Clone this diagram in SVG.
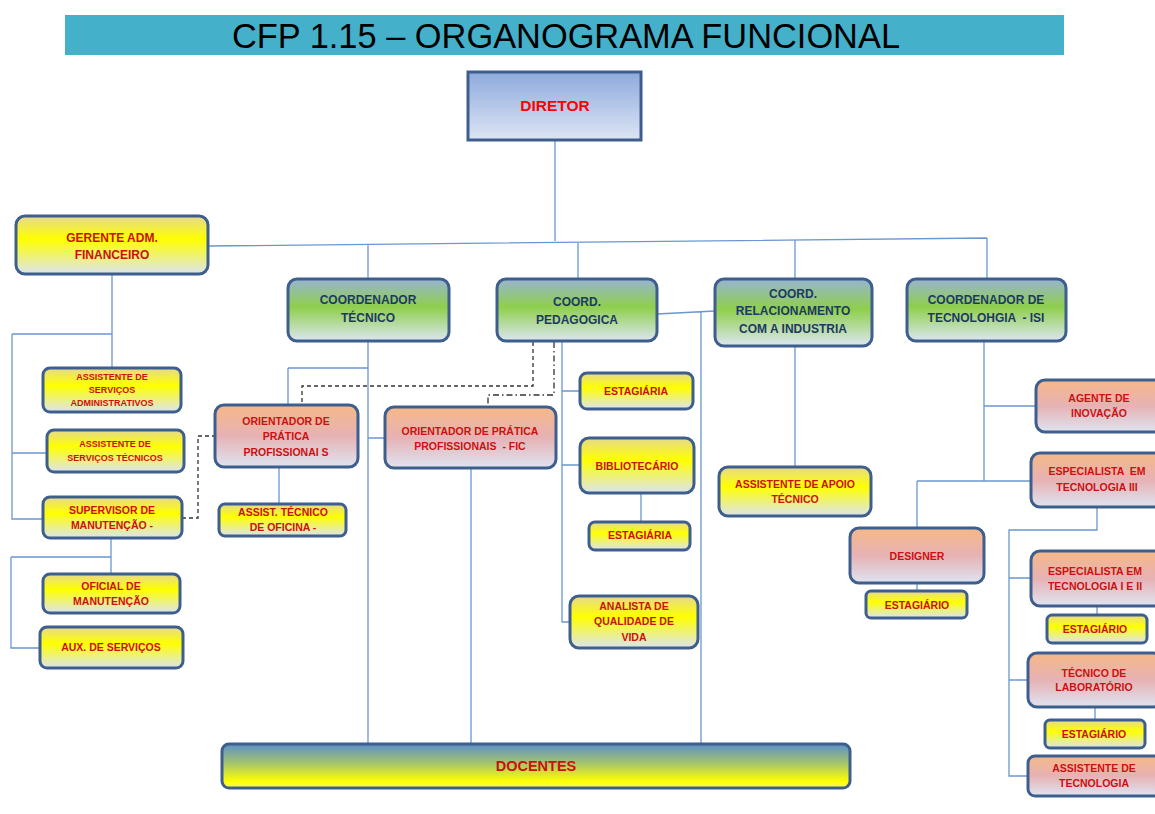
<svg xmlns="http://www.w3.org/2000/svg" width="1155" height="814" viewBox="0 0 1155 814">
<defs>
<linearGradient id="gY" x1="0" y1="0" x2="0" y2="1">
<stop offset="0" stop-color="#e6d98e"/><stop offset="0.4" stop-color="#ffff00"/><stop offset="1" stop-color="#dce4f0"/>
</linearGradient>
<linearGradient id="gG" x1="0" y1="0" x2="0" y2="1">
<stop offset="0" stop-color="#98b4d2"/><stop offset="0.45" stop-color="#8fcf4c"/><stop offset="1" stop-color="#dde6f2"/>
</linearGradient>
<linearGradient id="gP" x1="0" y1="0" x2="0" y2="1">
<stop offset="0" stop-color="#f6b888"/><stop offset="0.5" stop-color="#e6b2b4"/><stop offset="1" stop-color="#dfe4f2"/>
</linearGradient>
<linearGradient id="gD" x1="0" y1="0" x2="0" y2="1">
<stop offset="0" stop-color="#8eaadc"/><stop offset="1" stop-color="#dde5f4"/>
</linearGradient>
<linearGradient id="gDoc" x1="0" y1="0" x2="0" y2="1">
<stop offset="0" stop-color="#5b8fc8"/><stop offset="0.45" stop-color="#a8c66a"/><stop offset="0.85" stop-color="#ffff00"/><stop offset="1" stop-color="#fbfb60"/>
</linearGradient>
</defs>
<style>
.b{stroke:#3e5f8e;stroke-width:3}
.y{fill:url(#gY)}.g{fill:url(#gG)}.p{fill:url(#gP)}
text{font-family:"Liberation Sans",Arial,sans-serif;font-weight:bold;text-anchor:middle;white-space:pre}
.r{fill:#cc1010;font-size:10.5px}
.rs{fill:#cc1010;font-size:9px}
.rl{fill:#cc1010;font-size:12px}
.n{fill:#1c3a60;font-size:12px}
.c{fill:none;stroke:#6a97d0;stroke-width:1.3}
.d{fill:none;stroke:#333;stroke-width:1.3;stroke-dasharray:4 3}
.dd{fill:none;stroke:#333;stroke-width:1.3;stroke-dasharray:6 3 1.5 3}
</style>
<g id="title">
<rect x="65" y="15" width="999" height="40" fill="#45b0c9"/>
<text x="566" y="48" style="font-weight:normal;font-size:35px;fill:#000" textLength="668" lengthAdjust="spacingAndGlyphs">CFP 1.15 – ORGANOGRAMA FUNCIONAL</text>
</g>
<g id="connectors">
<path class="c" d="M555,140V241M208,246L987,238M368,245V279M578,242V279M795,240V279M987,238V279"/>
<path class="c" d="M112,274V368M12,334H112M12,334V519H43M12,453H47M111,538V574M11,557H111M11,557V648H40"/>
<path class="c" d="M368,341V744M288,368H368M288,368V405M368,438H385M279,467V504M471,468V744"/>
<path class="c" d="M562,341V622H570M562,391H580M562,465H580M641,493V522M657,314L715,311M701,312V744M795,346V467"/>
<path class="c" d="M984,341V481M984,406H1036M917,481H1031M917,481V528M917,583V591M1097,507V530H1009V776H1028M1009,578H1031M1009,680H1028M1097,606V615M1095,707V720"/>
<path class="d" d="M182,518H198V436H215"/>
<path class="d" d="M533,342V386H302V405"/>
<path class="dd" d="M554,342V395H488V410"/>
</g>
<g id="diretor"><rect class="b" x="468" y="72" width="173" height="68" fill="url(#gD)"/><text x="555" y="111" style="fill:#ff0000;font-size:15.5px">DIRETOR</text></g>
<g id="gerente"><rect class="b y" x="16" y="216" width="192" height="58" rx="9"/><text class="rl" x="112" y="242">GERENTE ADM.<tspan x="112" y="259">FINANCEIRO</tspan></text></g>
<g id="coord-tecnico"><rect class="b g" x="288" y="279" width="161" height="62" rx="9"/><text class="n" x="368" y="304">COORDENADOR<tspan x="368" y="322">TÉCNICO</tspan></text></g>
<g id="coord-pedagogica"><rect class="b g" x="497" y="279" width="160" height="62" rx="9"/><text class="n" x="577" y="306">COORD.<tspan x="577" y="324">PEDAGOGICA</tspan></text></g>
<g id="coord-relacionamento"><rect class="b g" x="715" y="279" width="157" height="67" rx="9"/><text class="n" x="793" y="298">COORD.<tspan x="793" y="315">RELACIONAMENTO</tspan><tspan x="793" y="333">COM A INDUSTRIA</tspan></text></g>
<g id="coord-tecnologia"><rect class="b g" x="907" y="279" width="159" height="62" rx="9"/><text class="n" x="986" y="304">COORDENADOR DE<tspan x="986" y="322">TECNOLOHGIA  - ISI</tspan></text></g>
<g id="assist-adm"><rect class="b y" x="43" y="368" width="138" height="44" rx="7"/><text class="rs" x="112" y="379.5">ASSISTENTE DE<tspan x="112" y="392.5">SERVIÇOS</tspan><tspan x="112" y="405.5">ADMINISTRATIVOS</tspan></text></g>
<g id="assist-tec"><rect class="b y" x="47" y="430" width="137" height="42" rx="7"/><text class="rs" x="115" y="447">ASSISTENTE DE<tspan x="115" y="461">SERVIÇOS TÉCNICOS</tspan></text></g>
<g id="supervisor"><rect class="b y" x="43" y="497" width="139" height="41" rx="7"/><text class="r" x="112" y="514">SUPERVISOR DE<tspan x="112" y="529">MANUTENÇÃO -</tspan></text></g>
<g id="oficial"><rect class="b y" x="43" y="574" width="137" height="39" rx="7"/><text class="r" x="111" y="590">OFICIAL DE<tspan x="111" y="605">MANUTENÇÃO</tspan></text></g>
<g id="aux"><rect class="b y" x="40" y="627" width="143" height="41" rx="7"/><text class="r" x="111" y="651">AUX. DE SERVIÇOS</text></g>
<g id="orientador-s"><rect class="b p" x="215" y="405" width="143" height="62" rx="9"/><text class="r" x="286" y="425">ORIENTADOR DE<tspan x="286" y="440">PRÁTICA</tspan><tspan x="286" y="456">PROFISSIONAI S</tspan></text></g>
<g id="assist-oficina"><rect class="b y" x="219" y="504" width="127" height="32" rx="6"/><text class="r" x="283" y="516">ASSIST. TÉCNICO<tspan x="283" y="531">DE OFICINA -</tspan></text></g>
<g id="orientador-fic"><rect class="b p" x="385" y="407" width="171" height="61" rx="9"/><text class="r" x="470" y="435">ORIENTADOR DE PRÁTICA<tspan x="470" y="450">PROFISSIONAIS  - FIC</tspan></text></g>
<g id="estagiaria-1"><rect class="b y" x="580" y="373" width="113" height="36" rx="7"/><text class="r" x="636" y="395">ESTAGIÁRIA</text></g>
<g id="bibliotecario"><rect class="b y" x="580" y="438" width="114" height="55" rx="9"/><text class="r" x="637" y="470">BIBLIOTECÁRIO</text></g>
<g id="estagiaria-2"><rect class="b y" x="589" y="522" width="101" height="28" rx="6"/><text class="r" x="640" y="539">ESTAGIÁRIA</text></g>
<g id="analista"><rect class="b y" x="570" y="596" width="128" height="52" rx="9"/><text class="r" x="634" y="610">ANALISTA DE<tspan x="634" y="625">QUALIDADE DE</tspan><tspan x="634" y="641">VIDA</tspan></text></g>
<g id="assist-apoio"><rect class="b y" x="719" y="467" width="152" height="49" rx="9"/><text class="r" x="795" y="488">ASSISTENTE DE APOIO<tspan x="795" y="503">TÉCNICO</tspan></text></g>
<g id="agente"><rect class="b p" x="1036" y="380" width="130" height="52" rx="9"/><text class="r" x="1099" y="402">AGENTE DE<tspan x="1099" y="417">INOVAÇÃO</tspan></text></g>
<g id="especialista-3"><rect class="b p" x="1031" y="453" width="132" height="54" rx="9"/><text class="r" x="1097" y="475">ESPECIALISTA  EM<tspan x="1097" y="491">TECNOLOGIA III</tspan></text></g>
<g id="designer"><rect class="b p" x="850" y="528" width="134" height="55" rx="9"/><text class="r" x="917" y="560">DESIGNER</text></g>
<g id="estagiario-d"><rect class="b y" x="866" y="591" width="101" height="27" rx="5"/><text class="r" x="917" y="609">ESTAGIÁRIO</text></g>
<g id="especialista-12"><rect class="b p" x="1031" y="551" width="132" height="55" rx="9"/><text class="r" x="1095" y="575">ESPECIALISTA EM<tspan x="1095" y="590">TECNOLOGIA I E II</tspan></text></g>
<g id="estagiario-e"><rect class="b y" x="1047" y="615" width="100" height="28" rx="5"/><text class="r" x="1095" y="633">ESTAGIÁRIO</text></g>
<g id="tecnico-lab"><rect class="b p" x="1028" y="653" width="134" height="54" rx="9"/><text class="r" x="1094" y="677">TÉCNICO DE<tspan x="1094" y="691">LABORATÓRIO</tspan></text></g>
<g id="estagiario-t"><rect class="b y" x="1045" y="720" width="100" height="28" rx="5"/><text class="r" x="1094" y="738">ESTAGIÁRIO</text></g>
<g id="assist-tecnologia"><rect class="b p" x="1028" y="756" width="134" height="40" rx="7"/><text class="r" x="1094" y="772">ASSISTENTE DE<tspan x="1094" y="787">TECNOLOGIA</tspan></text></g>
<g id="docentes"><rect class="b" x="222" y="744" width="628" height="44" rx="7" fill="url(#gDoc)"/><text x="536" y="771" style="fill:#cc1010;font-size:14.5px">DOCENTES</text></g>
</svg>
